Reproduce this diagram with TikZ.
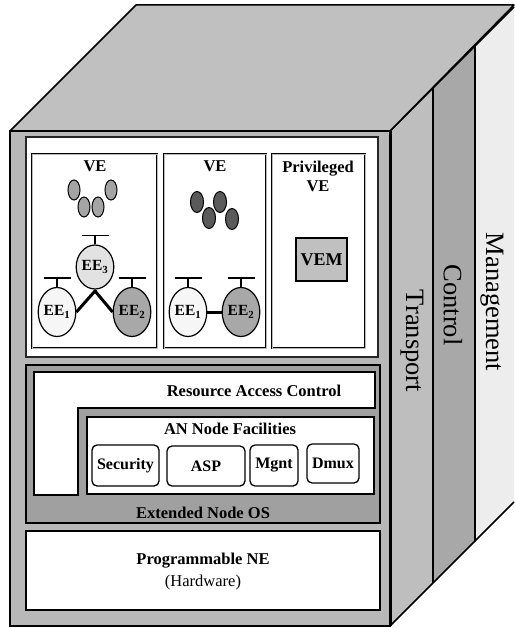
\documentclass[tikz,border=0pt]{standalone}
\usepackage{fontspec}
\setmainfont{Liberation Serif}
\usetikzlibrary{shapes.geometric}

\definecolor{topgray}{HTML}{C0C0C0}
\definecolor{framegray}{HTML}{B8B8B8}
\definecolor{transgray}{HTML}{BEBEBE}
\definecolor{ctrlgray}{HTML}{A8A8A8}
\definecolor{mgmtgray}{HTML}{EDEDED}
\definecolor{osgray}{HTML}{A0A0A0}
\definecolor{pipgray}{HTML}{A4A4A4}
\definecolor{pipdark}{HTML}{5A5A5A}
\definecolor{eelight}{HTML}{F6F6F6}
\definecolor{eemid}{HTML}{E2E2E2}
\definecolor{eedark}{HTML}{A8A8A8}

\begin{document}
\begin{tikzpicture}[x=1pt,y=-1pt,
  lab/.style={font=\fontsize{16.5}{19}\selectfont\bfseries, inner sep=0pt},
  plain/.style={font=\fontsize{16.5}{19}\selectfont, inner sep=0pt},
  side/.style={font=\fontsize{26.5}{30}\selectfont, inner sep=0pt, rotate=-90},
  vebox/.style={draw=black, double=gray!55, double distance=0.8pt, line width=0.7pt, fill=white},
  ee/.style={ellipse, draw=black, line width=1.2pt, minimum width=33pt, minimum height=49pt,
    inner sep=0pt, font=\fontsize{15.5}{17}\selectfont\bfseries},
  pip/.style={ellipse, draw=black, line width=1pt, minimum width=12pt, minimum height=20pt, inner sep=0pt},
  fac/.style={draw=black, rounded corners=5pt, line width=1.3pt, fill=white, inner sep=0pt,
    font=\fontsize{16}{19}\selectfont\bfseries},
  link/.style={line width=3pt, black},
  bar/.style={line width=1.2pt, black}]

\useasboundingbox (0,0) rectangle (514,628);

% ---- cube: side slabs ----
\fill[transgray] (390,131) -- (433,88) -- (433,583) -- (390,626) -- cycle;
\fill[ctrlgray]  (433,88) -- (475,46) -- (475,541) -- (433,583) -- cycle;
\fill[mgmtgray]  (475,46) -- (514,7) -- (514,502) -- (475,541) -- cycle;
\draw[line width=2pt] (433,88) -- (433,583);
\draw[line width=1.5pt] (475,46) -- (475,541);
\draw[line width=1.5pt] (390,131) -- (514,7);
\draw[line width=1.5pt] (390,626) -- (514,502);

% ---- cube: top face ----
\filldraw[fill=topgray, draw=black, line width=1.5pt, line join=round]
  (10,131) -- (136,5) -- (514,5) -- (390,131) -- cycle;

% ---- cube: front face ----
\filldraw[fill=framegray, draw=black, line width=1.5pt] (10,131) rectangle (390,626);
\draw[line width=3pt] (390,131) -- (390,626);

% ---- virtual environments panel ----
\filldraw[fill=white, draw=black!85, line width=1.8pt] (26,137) rectangle (378,357);
\draw[vebox] (32,154) rectangle (157,348);
\draw[vebox] (164,154) rectangle (266,348);
\draw[vebox] (272,154) rectangle (365,348);

\node[lab] (ve1) at (95,166) {VE};
\node[lab] (ve2) at (215,166) {VE};
\node[lab, align=center] (pve) at (318,176) {Privileged\\VE};

% execution environments of the first VE
\node[pip, fill=pipgray] (p1) at (74,190) {};
\node[pip, fill=pipgray] (p2) at (84,207) {};
\node[pip, fill=pipgray] (p3) at (98,207) {};
\node[pip, fill=pipgray] (p4) at (111,190) {};

\node[ee, fill=eemid, minimum width=29pt, minimum height=44pt] (ee3) at (95,267) {EE\textsubscript{3}};
\node[ee, fill=eelight] (ee1) at (57,312) {EE\textsubscript{1}};
\node[ee, fill=eedark] (ee2) at (132,312) {EE\textsubscript{2}};
\coordinate (j) at (95,291);
\draw[link, line join=round] (ee1.east) -- (j) -- (ee2.west);
\draw[link] (ee3.south) -- (j);

% execution environments of the second VE
\node[pip, fill=pipdark, minimum width=13pt, minimum height=21pt] (q1) at (197,202) {};
\node[pip, fill=pipdark, minimum width=13pt, minimum height=21pt] (q2) at (220,202) {};
\node[pip, fill=pipdark, minimum width=13pt, minimum height=21pt] (q3) at (209,218) {};
\node[pip, fill=pipdark, minimum width=13pt, minimum height=21pt] (q4) at (232,219) {};

\node[ee, fill=eelight] (fe1) at (188,312) {EE\textsubscript{1}};
\node[ee, fill=eedark] (fe2) at (241,312) {EE\textsubscript{2}};
\draw[link] (fe1.east) -- (fe2.west);

% T-shaped ports on top of each EE
\foreach \n in {ee3,ee1,ee2,fe1,fe2}{
  \draw[bar] (\n.north) -- ++(0,-9);
  \draw[bar] ([xshift=-13.5pt,yshift=9pt]\n.north) -- ++(27,0);
}

% privileged VE manager
\node[draw=black, line width=1.2pt, fill=topgray, minimum width=51pt, minimum height=43pt,
  inner sep=0pt, font=\fontsize{18}{20}\selectfont\bfseries] (vem) at (321.5,259.5) {VEM};

% ---- extended node OS ----
\filldraw[fill=osgray, draw=black, line width=1.6pt] (26,365) rectangle (380,523);
\filldraw[fill=white, draw=black, line width=1.4pt]
  (34,372) -- (375,372) -- (375,408) -- (78,408) -- (78,495) -- (34,495) -- cycle;
\node[lab] (rac) at (254,391) {Resource Access Control};

\filldraw[fill=white, draw=black, line width=1.4pt] (87,417) rectangle (374,494);
\node[lab] (anf) at (230,429) {AN Node Facilities};

\node[fac, minimum width=67pt, minimum height=41pt] (sec) at (125.5,465.5) {Security};
\node[fac, minimum width=78pt, minimum height=40pt] (asp) at (206,466) {ASP};
\node[fac, minimum width=48pt, minimum height=41pt] (mgt) at (274,465.5) {Mgnt};
\node[fac, minimum width=52pt, minimum height=39pt] (dmx) at (333,463.5) {Dmux};

\node[lab] (eos) at (203,513) {Extended Node OS};

% ---- programmable network element ----
\filldraw[fill=white, draw=black, line width=1.6pt] (26,531) rectangle (380,610);
\node[lab] (pne) at (203,561) {Programmable NE};
\node[plain] (hw) at (203,583) {(Hardware)};

% ---- planes on the side ----
\node[side] (tr) at (412,341) {Transport};
\node[side] (ct) at (453,305) {Control};
\node[side] (mg) at (492,302) {Management};

\end{tikzpicture}
\end{document}
